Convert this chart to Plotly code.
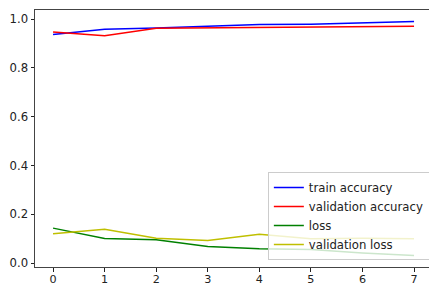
import plotly.graph_objects as go

epochs = [0, 1, 2, 3, 4, 5, 6, 7]
train_acc = [0.937, 0.958, 0.963, 0.970, 0.977, 0.979, 0.986, 0.990]
val_acc = [0.947, 0.931, 0.962, 0.964, 0.963, 0.966, 0.969, 0.970]
train_loss = [0.143, 0.100, 0.095, 0.068, 0.058, 0.055, 0.041, 0.031]
val_loss = [0.120, 0.138, 0.101, 0.092, 0.118, 0.099, 0.101, 0.099]
y_ticks = [0, 0.2, 0.4, 0.6, 0.8, 1.0]

series = [
    ("train accuracy", train_acc, "#0000ff"),
    ("validation accuracy", val_acc, "#ff0000"),
    ("loss", train_loss, "#008000"),
    ("validation loss", val_loss, "#bfbf00"),
]

fig = go.Figure()
for name, vals, color in series:
    fig.add_trace(go.Scatter(x=epochs, y=vals, mode="lines", name=name,
                             line=dict(color=color, width=1.5)))

FS = 11.7
axis_common = dict(showgrid=False, zeroline=False, ticks="outside", ticklen=3.5,
                   tickwidth=1, tickcolor="#222", linecolor="#444", linewidth=1,
                   showline=True)

fig.update_layout(
    width=429, height=286,
    margin=dict(l=35, r=0, t=10, b=19, autoexpand=False),
    paper_bgcolor="white", plot_bgcolor="white",
    font=dict(family="DejaVu Sans", size=FS, color="#222"),
    xaxis=dict(range=[-0.35, 7.29], tickvals=epochs, mirror=True,
               tickfont=dict(family="DejaVu Sans", size=11.2, color="#222"),
               ticklabelstandoff=-2, **axis_common),
    yaxis=dict(range=[-0.0164, 1.0369], tickvals=y_ticks, tickformat=".1f",
               tickfont=dict(family="DejaVu Sans", size=FS, color="#222"),
               **axis_common),
    legend=dict(x=0.591, y=0.027, xanchor="left", yanchor="bottom",
                bgcolor="rgba(255,255,255,0.8)", bordercolor="#ccc", borderwidth=1,
                font=dict(family="DejaVu Sans", size=FS, color="#222"),
                tracegroupgap=0, itemwidth=30),
    showlegend=True,
)

fig.write_html("out.html", config={"displayModeBar": False},
               post_script="document.body.style.margin='0';")
